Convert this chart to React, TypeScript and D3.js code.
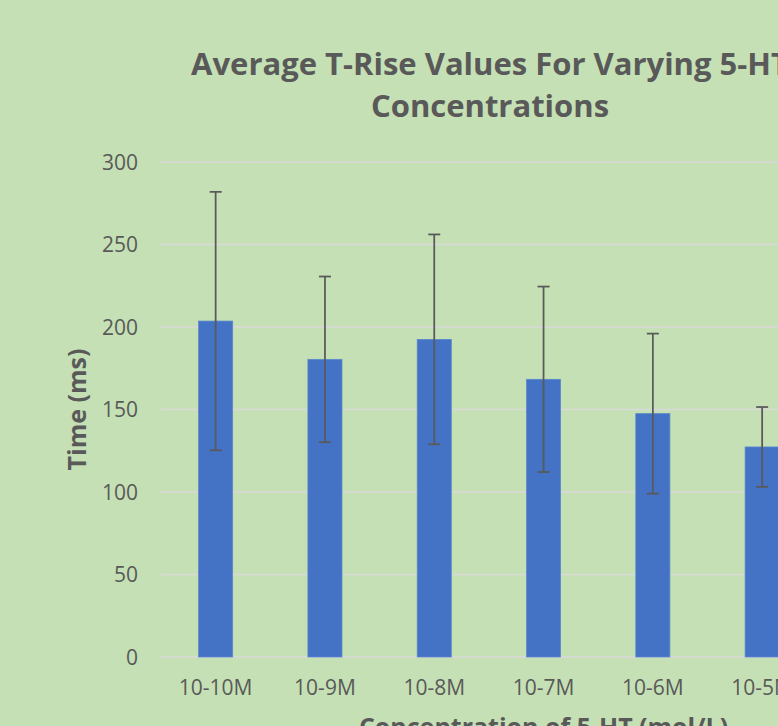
import { useEffect, useRef } from 'react';
import * as d3 from 'd3';

const categories = ['10-10M', '10-9M', '10-8M', '10-7M', '10-6M', '10-5M'];
const meanValues = [203.6, 180.4, 192.5, 168.3, 147.5, 127.3];
const errorValues = [78.3, 50.2, 63.6, 56.2, 48.5, 24.2];
const yTicks = [0, 50, 100, 150, 200, 250, 300];

const titleLines = ['Average T-Rise Values For Varying 5-HT', 'Concentrations'];
const xTitle = 'Concentration of 5-HT (mol/L)';
const yTitle = 'Time (ms)';

type Datum = { label: string; mean: number; err: number };

export default function App() {
  const svgRef = useRef<SVGSVGElement | null>(null);

  useEffect(() => {
    const svgElement = svgRef.current;
    if (!svgElement) {
      return;
    }

    const width = 778;
    const height = 726;
    const font = "'Open Sans', 'Noto Sans', sans-serif";
    const textColor = '#595959';

    // plot area; the chart is wider than the window, so the right side is clipped
    const plot = { left: 161, top: 162, bottom: 657, step: 109.3 };
    const fullPlotCategories = 7;

    const svg = d3.select(svgElement).attr('width', width).attr('height', height);
    svg.selectAll('*').remove();

    svg.append('rect').attr('width', width).attr('height', height).attr('fill', '#C5E0B4');

    const data: Datum[] = categories.map((label, i) => ({ label, mean: meanValues[i], err: errorValues[i] }));

    const x = d3
      .scaleBand<string>()
      .domain(categories)
      .range([plot.left, plot.left + plot.step * categories.length])
      .paddingInner(0.688)
      .paddingOuter(0.344);
    const y = d3.scaleLinear().domain([0, 300]).range([plot.bottom, plot.top]);

    const grid = svg.append('g');
    grid
      .selectAll('line')
      .data(yTicks)
      .join('line')
      .attr('x1', plot.left)
      .attr('x2', plot.left + plot.step * fullPlotCategories)
      .attr('y1', (d) => y(d))
      .attr('y2', (d) => y(d))
      .attr('stroke', '#D9D9D9')
      .attr('stroke-width', 1.5);

    svg
      .append('g')
      .selectAll('text')
      .data(yTicks)
      .join('text')
      .attr('x', 138)
      .attr('y', (d) => y(d))
      .attr('dy', '0.36em')
      .attr('text-anchor', 'end')
      .attr('font-family', font)
      .attr('font-size', 21)
      .attr('fill', textColor)
      .text((d) => `${d}`);

    svg
      .append('g')
      .selectAll('rect')
      .data(data)
      .join('rect')
      .attr('x', (d) => x(d.label)!)
      .attr('width', x.bandwidth())
      .attr('y', (d) => y(d.mean))
      .attr('height', (d) => y(0) - y(d.mean))
      .attr('fill', '#4472C4')
      .attr('stroke', '#5B87D0')
      .attr('stroke-width', 0.75);

    const errors = svg.append('g').attr('stroke', '#595959').attr('stroke-width', 1.75);
    const cx = (d: Datum) => x(d.label)! + x.bandwidth() / 2;
    errors
      .selectAll('line.stem')
      .data(data)
      .join('line')
      .attr('class', 'stem')
      .attr('x1', cx)
      .attr('x2', cx)
      .attr('y1', (d) => y(d.mean + d.err))
      .attr('y2', (d) => y(d.mean - d.err));
    errors
      .selectAll('line.cap-top')
      .data(data)
      .join('line')
      .attr('class', 'cap-top')
      .attr('x1', (d) => cx(d) - 6)
      .attr('x2', (d) => cx(d) + 6)
      .attr('y1', (d) => y(d.mean + d.err))
      .attr('y2', (d) => y(d.mean + d.err));
    errors
      .selectAll('line.cap-bottom')
      .data(data)
      .join('line')
      .attr('class', 'cap-bottom')
      .attr('x1', (d) => cx(d) - 6)
      .attr('x2', (d) => cx(d) + 6)
      .attr('y1', (d) => y(d.mean - d.err))
      .attr('y2', (d) => y(d.mean - d.err));

    svg
      .append('g')
      .selectAll('text')
      .data(categories)
      .join('text')
      .attr('x', (d) => x(d)! + x.bandwidth() / 2)
      .attr('y', 695)
      .attr('text-anchor', 'middle')
      .attr('font-family', font)
      .attr('font-size', 21)
      .attr('fill', textColor)
      .text((d) => d);

    svg
      .append('text')
      .attr('transform', `translate(86, ${(plot.top + plot.bottom) / 2}) rotate(-90)`)
      .attr('text-anchor', 'middle')
      .attr('font-family', font)
      .attr('font-size', 25)
      .attr('font-weight', 'bold')
      .attr('fill', textColor)
      .text(yTitle);

    svg
      .append('text')
      .attr('x', plot.left + (plot.step * fullPlotCategories) / 2)
      .attr('y', 736)
      .attr('text-anchor', 'middle')
      .attr('font-family', font)
      .attr('font-size', 25)
      .attr('font-weight', 'bold')
      .attr('fill', textColor)
      .text(xTitle);

    svg
      .append('g')
      .selectAll('text')
      .data(titleLines)
      .join('text')
      .attr('x', 490)
      .attr('y', (_, i) => 75 + i * 42)
      .attr('text-anchor', 'middle')
      .attr('font-family', font)
      .attr('font-size', 31)
      .attr('font-weight', 'bold')
      .attr('fill', textColor)
      .text((d) => d);
  }, []);

  return <svg ref={svgRef} style={{ position: 'absolute', left: 0, top: 0, display: 'block' }} />;
}
